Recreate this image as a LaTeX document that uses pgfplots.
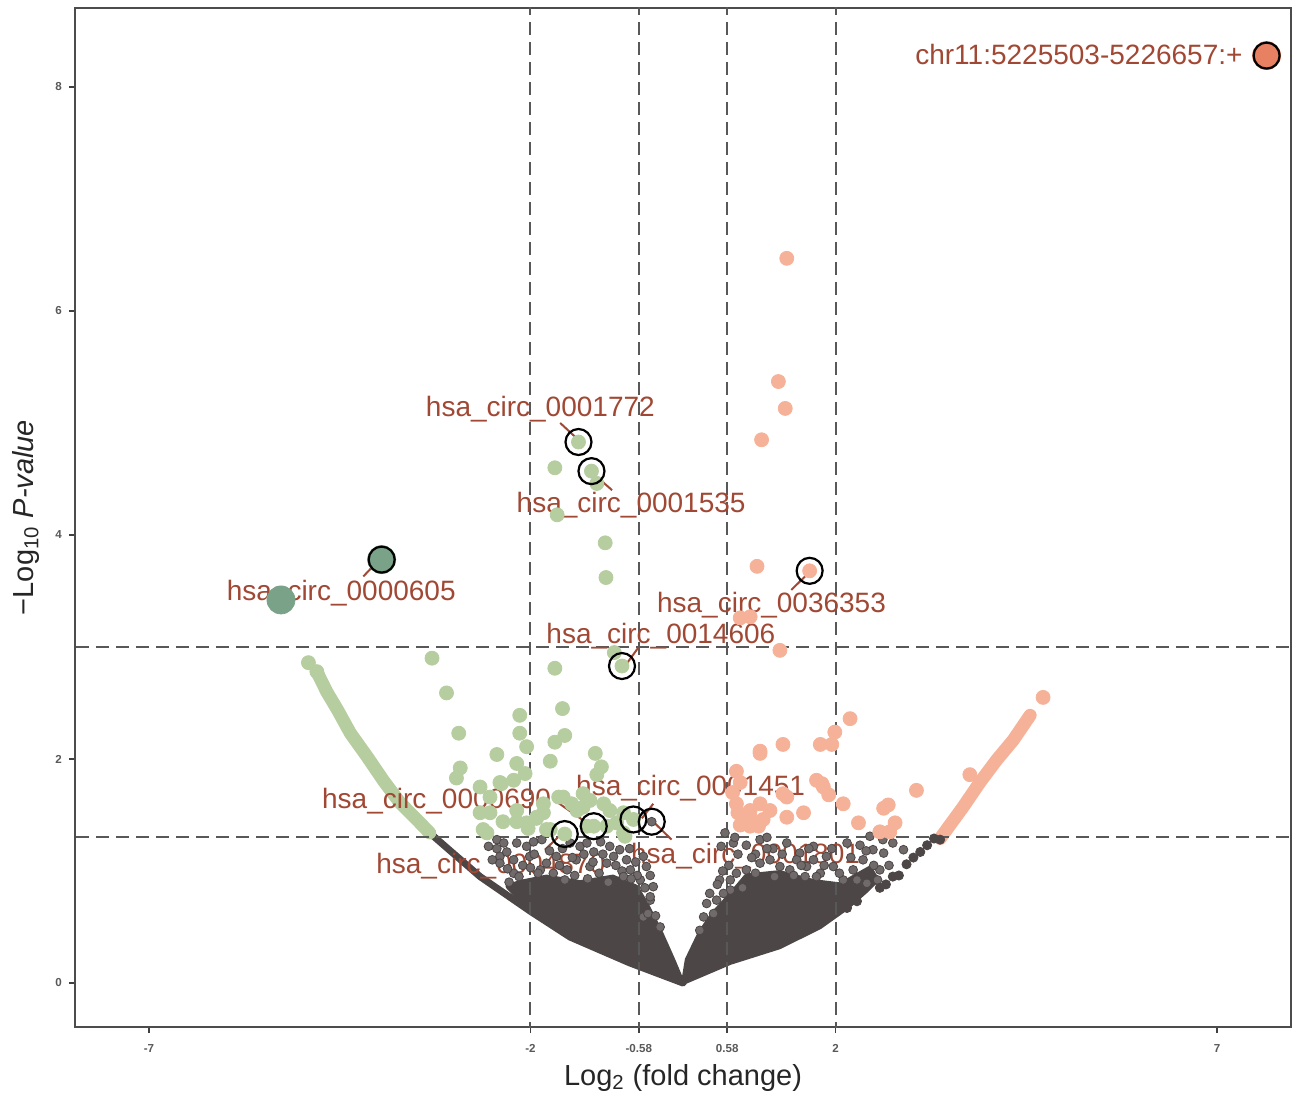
\documentclass[border=0pt]{standalone}
\usepackage{fontspec}
\setmainfont{Liberation Sans}
\usepackage{pgfplots}
\pgfplotsset{compat=1.18}
\usetikzlibrary{calc}
\definecolor{grn}{RGB}{182,205,160}
\definecolor{sal}{RGB}{246,178,152}
\definecolor{gry}{RGB}{76,70,70}
\definecolor{gryd}{RGB}{112,106,106}
\definecolor{tealg}{RGB}{122,162,136}
\definecolor{bigsal}{RGB}{232,128,98}
\definecolor{lab}{RGB}{160,72,52}
\definecolor{dashc}{RGB}{88,88,88}
\newcommand{\lbl}{\fontsize{14}{16}\selectfont}
\begin{document}
\begin{tikzpicture}
\begin{axis}[
  name=ax, scale only axis, width=608pt, height=509.5pt,
  xmin=-7.97, xmax=7.97, ymin=-0.393, ymax=8.705,
  xtick={-7,-2,-0.58,0.58,2,7}, xticklabels={-7,-2,-0.58,0.58,2,7},
  ytick={0,2,4,6,8}, yticklabels={0,2,4,6,8},
  tick align=outside, xtick pos=bottom, ytick pos=left,
  major tick length=3pt,
  tick style={draw=black!75, line width=0.8pt},
  axis line style={draw=black!70, line width=0.7pt},
  ticklabel style={font=\bfseries\fontsize{5.8}{6.5}\selectfont, text=black!65},
  xticklabel style={yshift=-2pt},
  xlabel={Log\textsubscript{2} (fold change)},
  ylabel={−Log\textsubscript{10} \textit{P-value}},
  xlabel style={at={(axis description cs:0.5,0)}, anchor=base, yshift=-29pt, font=\fontsize{14.5}{16}\selectfont, text=black!85},
  ylabel style={at={(axis description cs:0,0.5)}, anchor=base, yshift=20.5pt, font=\fontsize{14.5}{16}\selectfont, text=black!85},
  clip=true,
]
% dense grey core (left and right lobes)
\addplot[fill=gry, draw=gry, line width=2pt, line join=round] coordinates {
(0,0) (-0.13,0.21) (-0.30,0.47) (-0.48,0.71) (-0.61,0.86) (-0.92,0.95) (-1.35,0.90)
(-1.79,0.95) (-2.15,0.90) (-2.30,0.86) (-2.05,0.68) (-1.6,0.50) (-1.2,0.33) (-0.69,0.19) (0,0)};
\addplot[fill=gry, draw=gry, line width=2pt, line join=round] coordinates {
(0,0) (0.05,0.21) (0.22,0.45) (0.39,0.62) (0.62,0.79) (0.83,0.96) (1.27,0.99) (1.71,0.91)
(2.06,0.88) (2.45,1.03) (2.55,0.92) (2.40,0.82) (2.15,0.67) (1.80,0.50) (1.27,0.32) (0.62,0.18) (0,0)};
% grey boundary stream (left)
\addplot[gry, line width=3.5pt, line cap=round, line join=round] coordinates {
(-3.32,1.34) (-3.05,1.18) (-2.66,0.95) (-2.0,0.64) (-1.48,0.41) (-0.7,0.18) (0,0)};
% sparse grey points
\addplot[only marks, mark=*, mark size=2.2pt, draw=gry, fill=gryd, mark options={line width=0.4pt}] coordinates {
(-2.44,1.28) (-2.44,1.20) (-2.40,1.13) (-2.31,1.17) (-2.22,1.10) (-2.18,1.25) (-2.05,1.22)
(-2.01,1.13) (-1.96,1.26) (-1.85,1.28) (-1.87,1.01) (-1.79,1.07) (-1.66,1.13) (-1.48,1.25)
(-1.35,1.22) (-1.26,1.25) (-1.17,1.17) (-0.96,1.22) (-0.91,1.13) (-0.83,1.19) (-0.74,1.10)
(-1.00,1.07) (-0.69,1.01) (-0.52,1.13) (-0.48,1.04) (-0.56,0.92) (-0.43,0.74) (-0.39,0.86)
(-0.30,0.50) (-1.70,0.98) (-1.52,1.01) (-1.22,1.04) (-2.22,0.98) (-2.40,1.07) (-0.43,0.96)
(-0.43,0.77) (-0.52,0.59) (-2.10,1.05) (-1.40,1.10) (-1.10,0.98) (-0.80,1.00) (-0.41,1.44)
(-2.30,1.02) (-2.15,0.95) (-1.95,1.15) (-1.90,0.98) (-1.75,1.18) (-1.62,1.05) (-1.58,1.20)
(-1.45,1.12) (-1.42,0.96) (-1.30,1.15) (-1.18,1.08) (-1.05,1.15) (-1.08,1.26) (-0.88,1.05)
(-0.78,0.95) (-0.70,1.20) (-0.62,1.08) (-0.60,0.96) (-0.50,0.85) (-0.46,0.62) (-0.36,0.60)
(-2.55,1.22) (-2.50,1.10) (-2.35,1.25) (-2.28,0.90) (-2.00,1.03) (-1.55,0.92) (-1.25,0.93)
(-0.98,0.90) (-0.68,0.93)
(0.55,1.34) (0.66,1.25) (0.83,1.23) (1.01,1.28) (1.18,1.20) (1.36,1.25) (1.53,1.16)
(1.71,1.22) (1.88,1.13) (2.15,1.25) (2.32,1.23) (2.45,1.31) (2.49,1.19) (2.63,1.16)
(2.89,1.19) (0.48,0.92) (0.62,0.92) (0.62,0.83) (0.83,1.01) (1.01,1.07) (1.14,1.10)
(1.27,1.04) (1.40,1.01) (1.49,1.10) (1.62,1.04) (1.80,0.98) (1.97,1.04) (2.10,0.92)
(2.23,1.01) (2.36,1.10) (2.41,0.89) (2.58,1.01) (0.22,0.47) (0.27,0.59) (0.40,0.62)
(0.31,0.71) (0.44,0.74) (0.53,0.80) (0.70,0.98) (1.71,1.10) (0.95,1.15) (1.60,0.95)
(0.60,1.05) (0.72,1.15) (0.78,0.85) (0.90,1.12) (0.95,0.98) (1.10,1.20) (1.20,0.95)
(1.30,1.15) (1.45,0.96) (1.55,1.05) (1.65,1.20) (1.75,0.95) (1.85,1.05) (1.95,1.20)
(2.05,0.98) (2.20,1.12) (2.28,0.92) (2.50,1.05) (2.55,0.92) (2.70,1.05) (2.75,1.25)
(0.35,0.80) (0.45,0.88) (0.52,1.00) (2.40,1.18) (2.62,1.28) (0.50,1.22) (1.10,1.30) (0.68,1.30)};
% grey dotted boundary (right)
\addplot[only marks, mark=*, mark size=2.3pt, color=gry] coordinates {
(2.15,0.67) (2.28,0.73) (2.58,0.85) (2.66,0.88) (2.75,0.95) (2.83,0.96) (2.93,1.06)
(3.02,1.12) (3.11,1.17) (3.20,1.23) (3.29,1.29) (3.37,1.28)};
% green boundary stream
\addplot[grn, line width=6.5pt, line cap=round, line join=round] coordinates {
(-4.80,2.78) (-4.67,2.60) (-4.53,2.44) (-4.36,2.23) (-4.14,2.02) (-3.93,1.81) (-3.71,1.61)
(-3.49,1.46) (-3.32,1.34)};
% green points
\addplot[only marks, mark=*, mark size=3.5pt, color=grn] coordinates {
(-4.91,2.86) (-4.80,2.78)
(-1.68,4.60) (-1.65,4.18) (-1.13,4.46) (-1.37,4.83) (-1.20,4.57) (-1.02,3.93) (-1.01,3.62)
(-1.68,2.81) (-0.80,2.83) (-0.90,2.95)
(-3.29,2.90) (-3.10,2.59) (-2.94,2.23) (-2.92,1.92) (-2.97,1.83) (-2.66,1.75) (-2.44,2.04)
(-2.18,1.96) (-2.14,2.39) (-2.14,2.23) (-2.05,2.11) (-2.07,1.87) (-2.22,1.81) (-2.38,1.78)
(-2.66,1.52) (-2.53,1.52) (-2.57,1.34) (-2.18,1.44) (-2.03,1.38) (-1.58,2.45) (-1.55,2.21)
(-1.68,2.15) (-1.74,1.98) (-1.15,2.05) (-1.07,1.93) (-1.13,1.86) (-1.31,1.69) (-1.63,1.66)
(-1.83,1.52) (-1.92,1.47) (-1.79,1.37) (-1.46,1.60) (-1.31,1.57) (-1.04,1.60) (-0.78,1.52)
(-0.65,1.46) (-0.76,1.31) (-2.40,1.79) (-2.53,1.66) (-2.18,1.54) (-2.05,1.43) (-2.36,1.44)
(-2.62,1.37) (-1.83,1.60) (-1.57,1.66) (-1.39,1.54) (-1.22,1.63) (-0.96,1.54) (-0.87,1.43)
(-1.00,1.40) (-0.78,1.34) (-1.26,1.40) (-1.74,1.37) (-1.92,1.48) (-1.17,1.40) (-1.55,1.33)};
% salmon boundary stream
\addplot[sal, line width=6.5pt, line cap=round, line join=round] coordinates {
(3.37,1.29) (3.67,1.57) (3.89,1.79) (4.11,1.99) (4.33,2.17) (4.55,2.39)};
% salmon points
\addplot[only marks, mark=*, mark size=3.5pt, color=sal] coordinates {
(4.72,2.55) (1.36,6.47) (1.25,5.37) (1.34,5.13) (1.03,4.85) (0.97,3.72) (1.66,3.68) (0.75,3.26)
(0.88,3.27) (1.27,2.97) (2.19,2.36) (1.99,2.24) (1.80,2.13) (1.95,2.13) (1.31,2.13)
(1.01,2.07) (0.70,1.89) (1.82,1.78) (1.91,1.68) (2.10,1.60) (1.36,1.66) (0.70,1.60)
(1.01,1.60) (1.14,1.54) (0.72,1.52) (0.88,1.48) (1.36,1.48) (1.58,1.52) (0.75,1.41)
(0.99,1.40) (2.30,1.43) (2.69,1.59) (2.78,1.43) (2.58,1.35) (2.71,1.35) (3.06,1.72)
(3.76,1.86) (0.75,1.79) (1.01,2.05) (1.84,1.75) (2.63,1.56) (0.88,1.54) (1.05,1.46)
(1.31,1.69) (1.75,1.81) (0.88,1.40) (0.65,1.70)};
% big points
\addplot[only marks, mark=*, mark size=7pt, color=tealg] coordinates {(-5.27,3.42) (-3.95,3.78)};
\addplot[only marks, mark=*, mark size=7pt, color=bigsal] coordinates {(7.65,8.28)};
% threshold lines
\addplot[dashc, line width=1pt, dash pattern=on 6.5pt off 3.5pt] coordinates {(-2,-1) (-2,10)};
\addplot[dashc, line width=1pt, dash pattern=on 6.5pt off 3.5pt] coordinates {(-0.58,-1) (-0.58,10)};
\addplot[dashc, line width=1pt, dash pattern=on 6.5pt off 3.5pt] coordinates {(0.58,-1) (0.58,10)};
\addplot[dashc, line width=1pt, dash pattern=on 6.5pt off 3.5pt] coordinates {(2,-1) (2,10)};
\addplot[dashc, line width=1pt, dash pattern=on 6.5pt off 3.5pt] coordinates {(-9,1.3) (9,1.3)};
\addplot[dashc, line width=1pt, dash pattern=on 6.5pt off 3.5pt] coordinates {(-9,3) (9,3)};
% highlight circles
\addplot[only marks, mark=o, mark size=6.5pt, color=black, mark options={line width=1.1pt}] coordinates {
(-3.95,3.78) (-1.37,4.83) (-1.20,4.57) (1.66,3.68) (-0.80,2.83) (-1.17,1.40) (-1.55,1.33)
(-0.65,1.46) (-0.41,1.44) (7.65,8.28)};
% connectors
\draw[lab, line width=1pt] (axis cs:-4.01,3.76) -- (axis cs:-4.19,3.63);
\draw[lab, line width=1pt] (axis cs:-1.61,5.00) -- (axis cs:-1.42,4.88);
\draw[lab, line width=1pt] (axis cs:-1.13,4.52) -- (axis cs:-0.93,4.40);
\draw[lab, line width=1pt] (axis cs:1.42,3.51) -- (axis cs:1.60,3.63);
\draw[lab, line width=1pt] (axis cs:-0.74,2.85) -- (axis cs:-0.59,2.99);
\draw[lab, line width=1pt] (axis cs:-1.66,1.62) -- (axis cs:-1.22,1.41);
\draw[lab, line width=1pt] (axis cs:-1.81,1.19) -- (axis cs:-1.61,1.32);
\draw[lab, line width=1pt] (axis cs:-0.39,1.60) -- (axis cs:-0.54,1.47);
\draw[lab, line width=1pt] (axis cs:-0.39,1.44) -- (axis cs:-0.15,1.28);
% labels
\node[text=lab, font=\lbl, anchor=east, inner sep=0pt] at (axis cs:7.34,8.29) {chr11:5225503-5226657:+};
\node[text=lab, font=\lbl, inner sep=0pt] at (axis cs:-4.48,3.48) {hsa\_circ\_0000605};
\node[text=lab, font=\lbl, inner sep=0pt] at (axis cs:-1.87,5.12) {hsa\_circ\_0001772};
\node[text=lab, font=\lbl, inner sep=0pt] at (axis cs:-0.68,4.27) {hsa\_circ\_0001535};
\node[text=lab, font=\lbl, inner sep=0pt] at (axis cs:1.16,3.375) {hsa\_circ\_0036353};
\node[text=lab, font=\lbl, inner sep=0pt] at (axis cs:-0.29,3.10) {hsa\_circ\_0014606};
\node[text=lab, font=\lbl, inner sep=0pt] at (axis cs:-3.23,1.625) {hsa\_circ\_0000690};
\node[text=lab, font=\lbl, inner sep=0pt] at (axis cs:-2.52,1.045) {hsa\_circ\_0004870};
\node[text=lab, font=\lbl, inner sep=0pt] at (axis cs:0.10,1.74) {hsa\_circ\_0001451};
\node[text=lab, font=\lbl, inner sep=0pt] at (axis cs:0.82,1.13) {hsa\_circ\_0001801};
\end{axis}
\pgfresetboundingbox
\path ($(ax.south west)+(-37.5pt,-32.5pt)$) rectangle ($(ax.north east)+(1pt,4pt)$);
\end{tikzpicture}
\end{document}
